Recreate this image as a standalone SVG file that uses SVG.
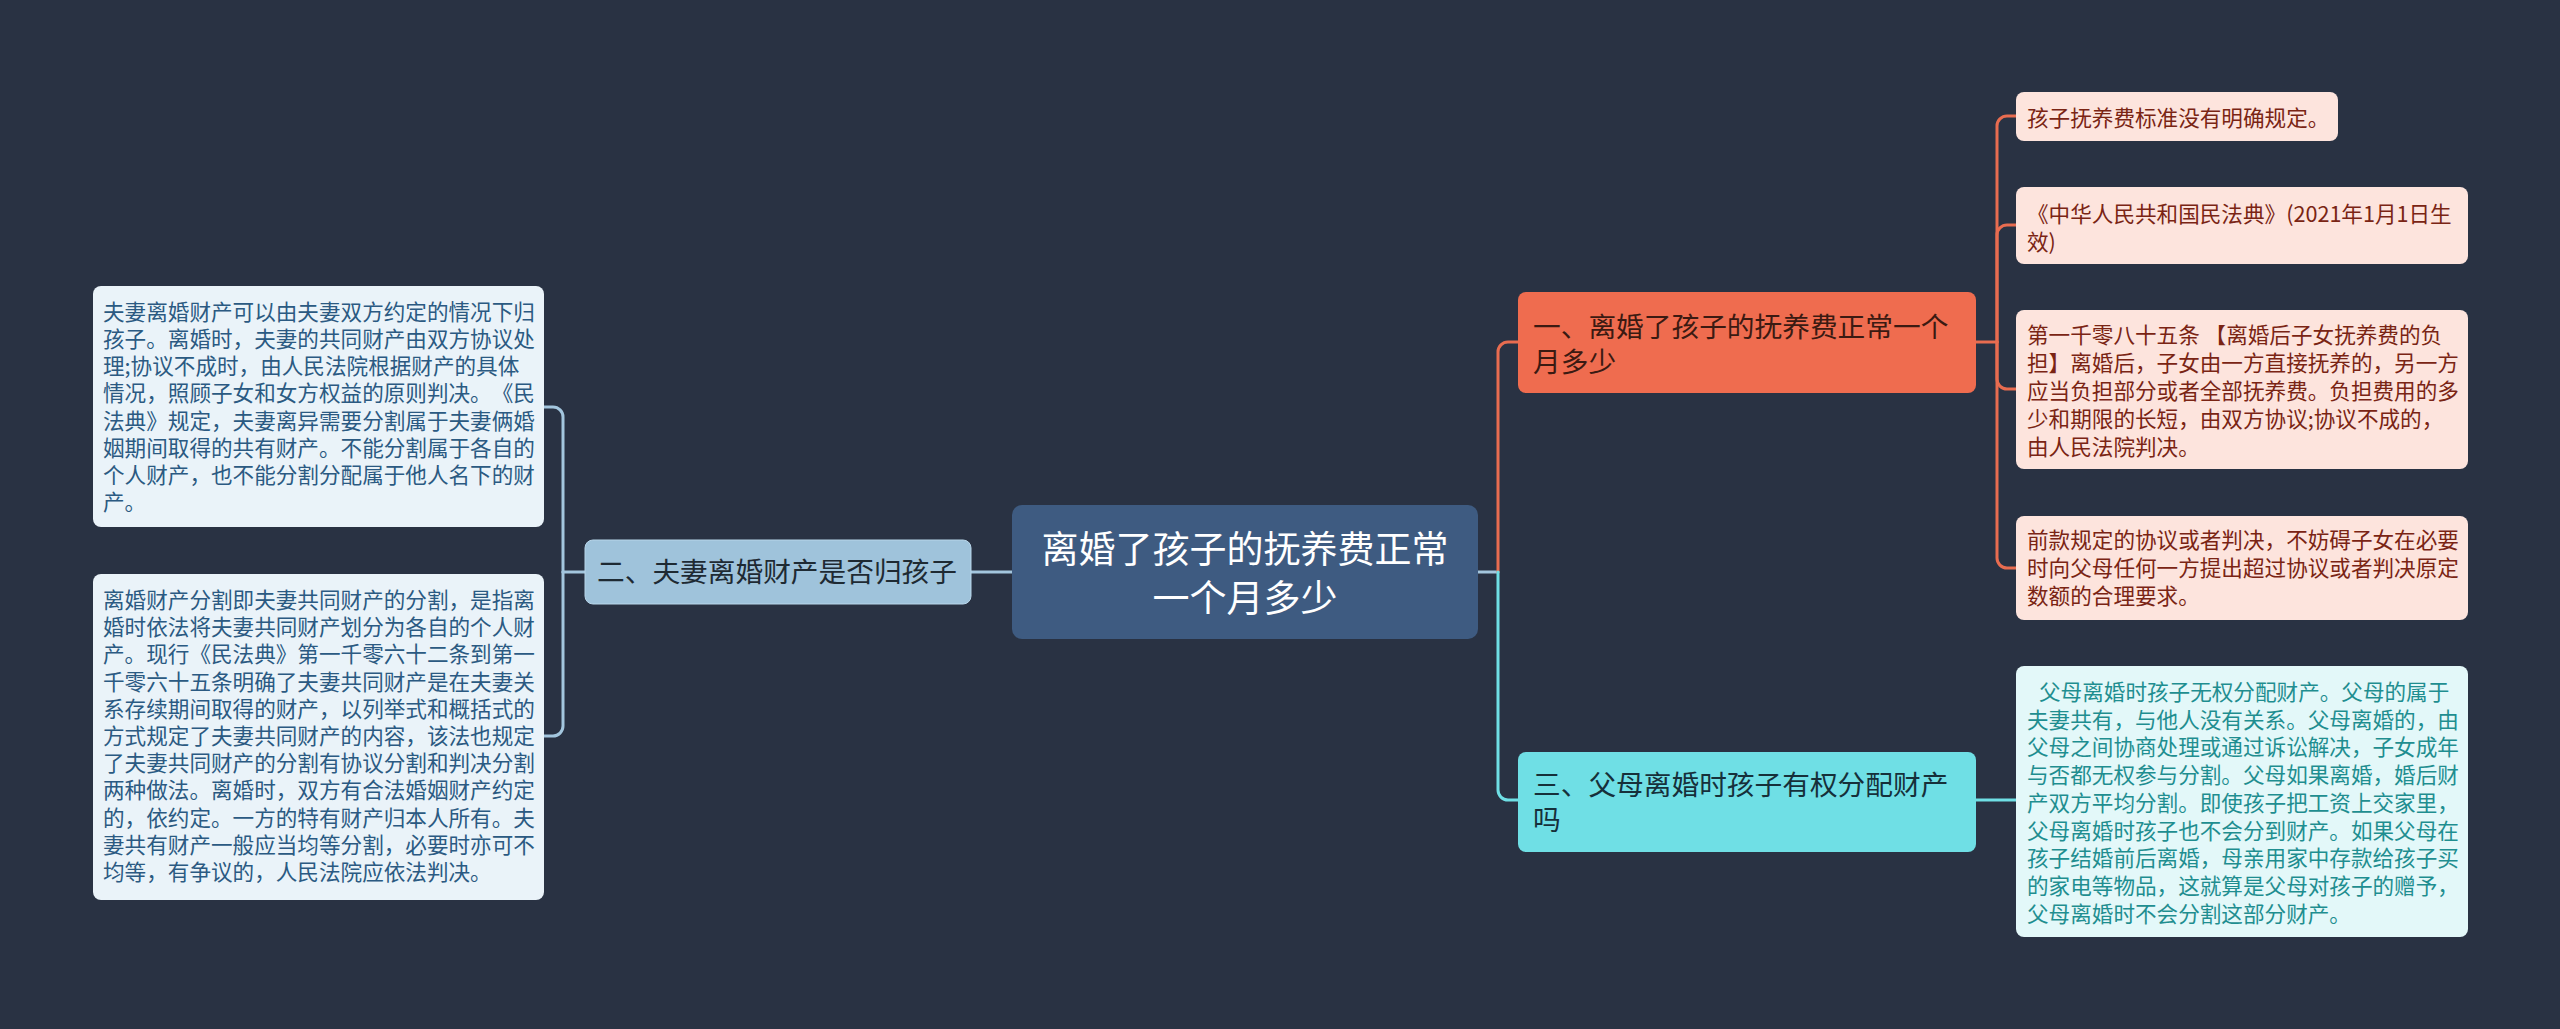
<svg xmlns="http://www.w3.org/2000/svg" width="2560" height="1029" viewBox="0 0 2560 1029">
<style>
text{font-family:"Noto Sans CJK SC","Noto Sans",sans-serif;text-spacing-trim:space-all;font-kerning:none;}
.lt{font-size:21.6px;fill:#2b5a82;}
.pt{font-size:21.6px;fill:#7a2414;}
.ct{font-size:21.6px;fill:#1f8e90;}
.mid{font-size:27.7px;}
.conn{fill:none;stroke-width:3;stroke-linecap:round;}
.blue{stroke:#a3c6de;}
.coral{stroke:#e86c50;}
.cyan{stroke:#6fdfe5;}
</style>
<rect x="0" y="0" width="2560" height="1029" fill="#293243"/>
<g id="connectors">
<path class="conn blue" d="M971,572 H1012"/>
<path class="conn blue" d="M585,572 H563"/>
<path class="conn blue" d="M563,572 V417 A10,10 0 0 0 553,407 H544"/>
<path class="conn blue" d="M563,572 V726 A10,10 0 0 1 553,736 H544"/>
<path class="conn blue" d="M1478,572 H1498"/>
<path class="conn coral" d="M1498,572 V352 A10,10 0 0 1 1508,342 H1518"/>
<path class="conn cyan" d="M1498,572 V790 A10,10 0 0 0 1508,800 H1518"/>
<path class="conn coral" d="M1976,342 H1997"/>
<path class="conn coral" d="M1997,342 V126 A10,10 0 0 1 2007,116 H2016"/>
<path class="conn coral" d="M1997,342 V235 A10,10 0 0 1 2007,225 H2016"/>
<path class="conn coral" d="M1997,342 V379 A10,10 0 0 0 2007,389 H2016"/>
<path class="conn coral" d="M1997,342 V558 A10,10 0 0 0 2007,568 H2016"/>
<path class="conn cyan" d="M1976,800 H2016"/>
</g>
<g id="root">
<rect x="1012" y="505" width="466" height="134" rx="10" fill="#3e5b81"/>
<text x="1245" y="563" text-anchor="middle" font-size="37" fill="#ffffff">离婚了孩子的抚养费正常</text>
<text x="1245" y="612" text-anchor="middle" font-size="37" fill="#ffffff">一个月多少</text>
</g>
<g id="n2">
<rect x="585" y="540" width="386" height="64" rx="8" fill="#9fc3db" stroke="#b8d6ea" stroke-width="1"/>
<text class="mid" x="597" y="582" fill="#1e2a33">二、夫妻离婚财产是否归孩子</text>
</g>
<g id="l1">
<rect x="93" y="286" width="451" height="241" rx="8" fill="#eaf3f9"/>
<text class="lt" x="103" y="320">夫妻离婚财产可以由夫妻双方约定的情况下归</text>
<text class="lt" x="103" y="347">孩子。离婚时，夫妻的共同财产由双方协议处</text>
<text class="lt" x="103" y="374">理;协议不成时，由人民法院根据财产的具体</text>
<text class="lt" x="103" y="401">情况，照顾子女和女方权益的原则判决。《民</text>
<text class="lt" x="103" y="429">法典》规定，夫妻离异需要分割属于夫妻俩婚</text>
<text class="lt" x="103" y="456">姻期间取得的共有财产。不能分割属于各自的</text>
<text class="lt" x="103" y="483">个人财产，也不能分割分配属于他人名下的财</text>
<text class="lt" x="103" y="510">产。</text>
</g>
<g id="l2">
<rect x="93" y="574" width="451" height="326" rx="8" fill="#eaf3f9"/>
<text class="lt" x="103" y="608">离婚财产分割即夫妻共同财产的分割，是指离</text>
<text class="lt" x="103" y="635">婚时依法将夫妻共同财产划分为各自的个人财</text>
<text class="lt" x="103" y="662">产。现行《民法典》第一千零六十二条到第一</text>
<text class="lt" x="103" y="690">千零六十五条明确了夫妻共同财产是在夫妻关</text>
<text class="lt" x="103" y="717">系存续期间取得的财产，以列举式和概括式的</text>
<text class="lt" x="103" y="744">方式规定了夫妻共同财产的内容，该法也规定</text>
<text class="lt" x="103" y="771">了夫妻共同财产的分割有协议分割和判决分割</text>
<text class="lt" x="103" y="798">两种做法。离婚时，双方有合法婚姻财产约定</text>
<text class="lt" x="103" y="826">的，依约定。一方的特有财产归本人所有。夫</text>
<text class="lt" x="103" y="853">妻共有财产一般应当均等分割，必要时亦可不</text>
<text class="lt" x="103" y="880">均等，有争议的，人民法院应依法判决。</text>
</g>
<g id="n1">
<rect x="1518" y="292" width="458" height="101" rx="8" fill="#ef6c4f"/>
<text class="mid" x="1533" y="337" fill="#3b1a12">一、离婚了孩子的抚养费正常一个</text>
<text class="mid" x="1533" y="372" fill="#3b1a12">月多少</text>
</g>
<g id="n3">
<rect x="1518" y="752" width="458" height="100" rx="8" fill="#6fdfe5"/>
<text class="mid" x="1533" y="795" fill="#16303a">三、父母离婚时孩子有权分配财产</text>
<text class="mid" x="1533" y="830" fill="#16303a">吗</text>
</g>
<g id="r1">
<rect x="2016" y="92" width="322" height="49" rx="8" fill="#fde4dd"/>
<text class="pt" x="2027" y="126">孩子抚养费标准没有明确规定。</text>
</g>
<g id="r2">
<rect x="2016" y="187" width="452" height="77" rx="8" fill="#fde4dd"/>
<text class="pt" x="2027" y="222">《中华人民共和国民法典》(2021年1月1日生</text>
<text class="pt" x="2027" y="250">效)</text>
</g>
<g id="r3">
<rect x="2016" y="310" width="452" height="159" rx="8" fill="#fde4dd"/>
<text class="pt" x="2027" y="343">第一千零八十五条 【离婚后子女抚养费的负</text>
<text class="pt" x="2027" y="371">担】离婚后，子女由一方直接抚养的，另一方</text>
<text class="pt" x="2027" y="399">应当负担部分或者全部抚养费。负担费用的多</text>
<text class="pt" x="2027" y="427">少和期限的长短，由双方协议;协议不成的，</text>
<text class="pt" x="2027" y="455">由人民法院判决。</text>
</g>
<g id="r4">
<rect x="2016" y="516" width="452" height="104" rx="8" fill="#fde4dd"/>
<text class="pt" x="2027" y="548">前款规定的协议或者判决，不妨碍子女在必要</text>
<text class="pt" x="2027" y="576">时向父母任何一方提出超过协议或者判决原定</text>
<text class="pt" x="2027" y="604">数额的合理要求。</text>
</g>
<g id="r5">
<rect x="2016" y="666" width="452" height="271" rx="8" fill="#e3f8f9"/>
<text class="ct" x="2039" y="700">父母离婚时孩子无权分配财产。父母的属于</text>
<text class="ct" x="2027" y="728">夫妻共有，与他人没有关系。父母离婚的，由</text>
<text class="ct" x="2027" y="755">父母之间协商处理或通过诉讼解决，子女成年</text>
<text class="ct" x="2027" y="783">与否都无权参与分割。父母如果离婚，婚后财</text>
<text class="ct" x="2027" y="811">产双方平均分割。即使孩子把工资上交家里，</text>
<text class="ct" x="2027" y="839">父母离婚时孩子也不会分到财产。如果父母在</text>
<text class="ct" x="2027" y="866">孩子结婚前后离婚，母亲用家中存款给孩子买</text>
<text class="ct" x="2027" y="894">的家电等物品，这就算是父母对孩子的赠予，</text>
<text class="ct" x="2027" y="922">父母离婚时不会分割这部分财产。</text>
</g>
</svg>
